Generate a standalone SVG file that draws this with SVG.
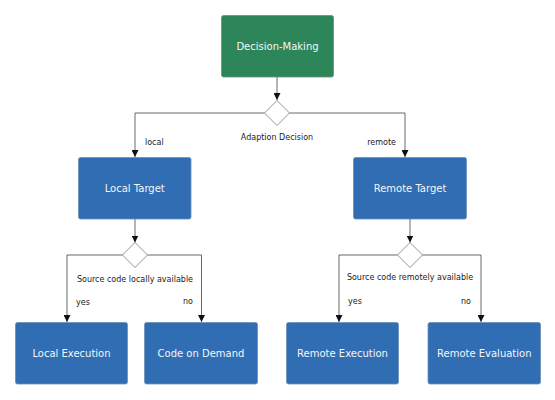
<svg xmlns="http://www.w3.org/2000/svg" width="555" height="400" viewBox="0 0 555 400">
<style>
.node{stroke:#6b8fb8;stroke-width:0.8}
.blue{fill:#306db3}
.green{fill:#2d8659;stroke:#5a9a78}
.nt{font-family:"DejaVu Sans",sans-serif;font-size:10px;fill:#f4f6fa;text-anchor:middle}
.lb{font-family:"DejaVu Sans",sans-serif;font-size:8px;fill:#222222}
.c{fill:none;stroke:#444444;stroke-width:0.8}
.dm{fill:#ffffff;stroke:#777777;stroke-width:0.8}
</style>
<defs>
<marker id="ah" viewBox="0 0 8 8" refX="8" refY="4" markerWidth="7" markerHeight="7" markerUnits="userSpaceOnUse" orient="auto">
<path d="M0,0 L8,4 L0,8 Z" fill="#111111"/>
</marker>
</defs>
<g id="connectors">
<path class="c" d="M277,77 V100" marker-end="url(#ah)"/>
<path class="c" d="M264.5,113 H135 V157" marker-end="url(#ah)"/>
<path class="c" d="M289.5,113 H405 V157" marker-end="url(#ah)"/>
<path class="c" d="M135,219 V242.5" marker-end="url(#ah)"/>
<path class="c" d="M122.5,255 H67 V322" marker-end="url(#ah)"/>
<path class="c" d="M147.5,255 H201.5 V322" marker-end="url(#ah)"/>
<path class="c" d="M410,219 V242.5" marker-end="url(#ah)"/>
<path class="c" d="M397.5,255 H339 V322" marker-end="url(#ah)"/>
<path class="c" d="M422.5,255 H481 V322" marker-end="url(#ah)"/>
<text class="lb" x="145" y="145">local</text>
<text class="lb" x="396" y="145" text-anchor="end">remote</text>
<text class="lb" x="76" y="305">yes</text>
<text class="lb" x="193" y="304" text-anchor="end">no</text>
<text class="lb" x="348" y="304">yes</text>
<text class="lb" x="471" y="304" text-anchor="end">no</text>
</g>
<g id="decision-making">
<rect class="node green" x="221.5" y="15.5" width="112" height="61.5" rx="2"/>
<text class="nt" x="277.5" y="50">Decision-Making</text>
</g>
<g id="adaption-decision">
<polygon class="dm" points="277,100.5 289.5,113 277,125.5 264.5,113"/>
<text class="lb" x="277" y="140" text-anchor="middle">Adaption Decision</text>
</g>
<g id="local-target">
<rect class="node blue" x="78.5" y="157.5" width="112.5" height="61.5" rx="2"/>
<text class="nt" x="134.75" y="192">Local Target</text>
</g>
<g id="remote-target">
<rect class="node blue" x="353.5" y="157.5" width="113" height="61.5" rx="2"/>
<text class="nt" x="410" y="192">Remote Target</text>
</g>
<g id="local-decision">
<polygon class="dm" points="135,242.5 147.5,255 135,267.5 122.5,255"/>
<text class="lb" x="135" y="282" text-anchor="middle">Source code locally available</text>
</g>
<g id="remote-decision">
<polygon class="dm" points="410,242.5 422.5,255 410,267.5 397.5,255"/>
<text class="lb" x="410" y="280" text-anchor="middle">Source code remotely available</text>
</g>
<g id="local-execution">
<rect class="node blue" x="15.5" y="322.5" width="112" height="61.5" rx="2"/>
<text class="nt" x="71.5" y="357">Local Execution</text>
</g>
<g id="code-on-demand">
<rect class="node blue" x="144.5" y="322.5" width="113" height="61.5" rx="2"/>
<text class="nt" x="201" y="357">Code on Demand</text>
</g>
<g id="remote-execution">
<rect class="node blue" x="286.5" y="322.5" width="112" height="61.5" rx="2"/>
<text class="nt" x="342.5" y="357">Remote Execution</text>
</g>
<g id="remote-evaluation">
<rect class="node blue" x="428" y="322.5" width="112.5" height="61.5" rx="2"/>
<text class="nt" x="484.25" y="357">Remote Evaluation</text>
</g>
</svg>
